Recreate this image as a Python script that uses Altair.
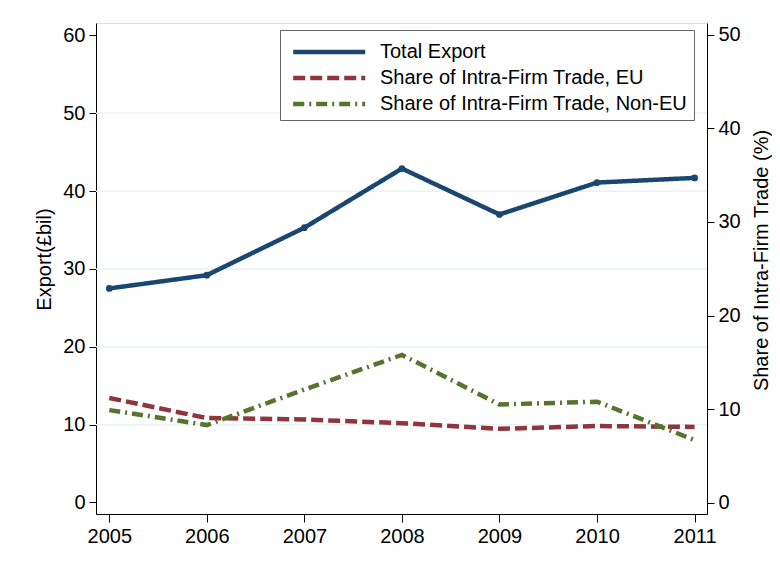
import altair as alt
import pandas as pd

years = [2005, 2006, 2007, 2008, 2009, 2010, 2011]
total_export = [27.5, 29.2, 35.3, 42.9, 37.0, 41.1, 41.7]
share_eu = [11.2, 9.05, 8.9, 8.5, 7.9, 8.2, 8.1]
share_noneu = [9.9, 8.3, 12.1, 15.8, 10.5, 10.8, 6.7]
grid_values = [10, 20, 30, 40, 50]
left_ticks = [0, 10, 20, 30, 40, 50, 60]
right_ticks = [0, 10, 20, 30, 40, 50]

S_TOT = "Total Export"
S_EU = "Share of Intra-Firm Trade, EU"
S_NON = "Share of Intra-Firm Trade, Non-EU"
series = [S_TOT, S_EU, S_NON]
colors = ["#1a476f", "#90353b", "#55752f"]
dashes = [[1, 0], [12, 5], [11, 5, 2, 5]]

rows = []
for y, v in zip(years, total_export):
    rows.append({"year": y, "value": v, "series": S_TOT})
for y, v in zip(years, share_eu):
    rows.append({"year": y, "value": v, "series": S_EU})
for y, v in zip(years, share_noneu):
    rows.append({"year": y, "value": v, "series": S_NON})
df = pd.DataFrame(rows)
grid_df = pd.DataFrame({"g": grid_values})

FONT = "Liberation Sans"
FS = 20

x_enc = alt.X("year:Q",
              scale=alt.Scale(domain=[2004.864, 2011.127], nice=False, zero=False),
              axis=alt.Axis(values=years, format="d", title=None, grid=False,
                            labelFontSize=FS, tickSize=8, labelPadding=4,
                            domainColor="black", tickColor="black", labelColor="black"))

left_scale = alt.Scale(domain=[-1.48, 61.6], nice=False, zero=False)
right_scale = alt.Scale(domain=[-1.2, 51.26], nice=False, zero=False)


def make_legend():
    return alt.Legend(title=None, orient="none", legendX=184, legendY=7,
                      symbolType="M-0.64,0H4.6", symbolStrokeWidth=4.5,
                      symbolSize=756, labelFontSize=FS,
                      labelFont=FONT, labelColor="black",
                      labelLimit=500, rowPadding=0,
                      padding=6, strokeColor="#666666",
                      fillColor="white", labelOffset=62)


color_enc = alt.Color("series:N", scale=alt.Scale(domain=series, range=colors),
                      legend=make_legend())
dash_enc = alt.StrokeDash("series:N", scale=alt.Scale(domain=series, range=dashes),
                          legend=make_legend())

left_axis = alt.Axis(values=left_ticks, title="Export(£bil)",
                     grid=False, labelFontSize=FS, titleFontSize=FS,
                     titleFontWeight="normal", tickSize=7, labelPadding=4,
                     titlePadding=8, titleY=236, domainColor="black", tickColor="black",
                     labelColor="black", titleColor="black")
right_axis = alt.Axis(values=right_ticks, title="Share of Intra-Firm Trade (%)",
                      orient="right", grid=False, labelFontSize=FS, titleFontSize=FS,
                      titleFontWeight="normal", tickSize=7, labelPadding=4,
                      titleAngle=270, titlePadding=31, titleY=237,
                      domainColor="black", tickColor="black",
                      labelColor="black", titleColor="black")

grid = alt.Chart(grid_df).mark_rule(color="#eaf2f3", strokeWidth=1.5).encode(
    y=alt.Y("g:Q", scale=left_scale, axis=left_axis)
)

base_tot = alt.Chart(df).transform_filter(alt.datum.series == S_TOT)
tot_line = base_tot.mark_line(strokeWidth=4.5).encode(
    x=x_enc,
    y=alt.Y("value:Q", scale=left_scale, axis=left_axis),
    color=color_enc,
    strokeDash=dash_enc,
)
tot_pts = base_tot.mark_point(filled=True, size=45, opacity=1).encode(
    x=alt.X("year:Q"),
    y=alt.Y("value:Q", scale=left_scale, axis=left_axis),
    color=alt.Color("series:N", legend=None),
)

shares = alt.Chart(df).transform_filter(alt.datum.series != S_TOT).mark_line(
    strokeWidth=4.5).encode(
    x=alt.X("year:Q"),
    y=alt.Y("value:Q", scale=right_scale, axis=right_axis),
    color=color_enc,
    strokeDash=dash_enc,
)

left = alt.layer(grid, tot_line, tot_pts)
chart = alt.layer(left, shares).resolve_scale(y="independent").properties(
    width=611, height=491,
    autosize=alt.AutoSizeParams(type="none"),
    padding={"left": 88, "top": 15, "right": 65, "bottom": 47},
).configure_view(stroke=None).configure(font=FONT, background="white")

chart.save("out.html", embed_options={"renderer": "svg", "actions": False})
